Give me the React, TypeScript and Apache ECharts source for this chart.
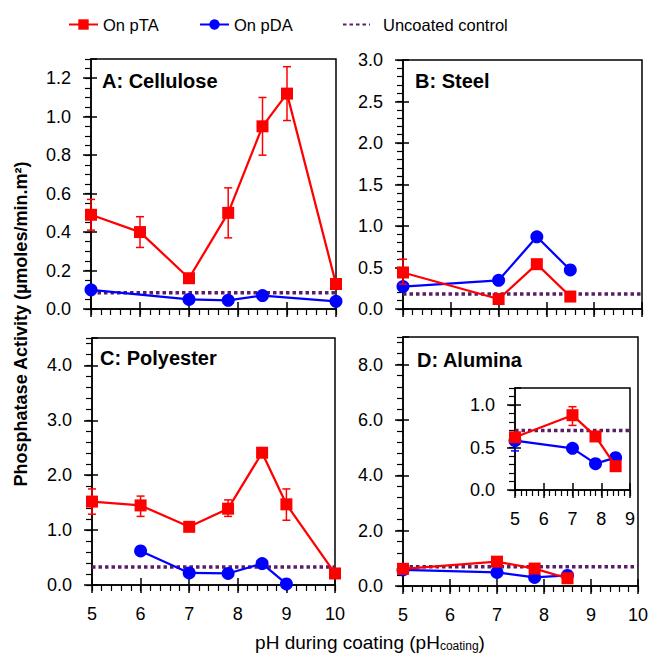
import React, { useEffect, useRef } from 'react';
import * as echarts from 'echarts';

const FONT = '"Liberation Sans", Arial, sans-serif';
const RED = '#FF0000';
const BLUE = '#0000FF';
const PURPLE = '#5B1C68';

// ---------- Data ----------
// Panel A: Cellulose
const A_pTA_x = [5, 6, 7, 7.8, 8.5, 9, 10];
const A_pTA_y = [0.49, 0.40, 0.16, 0.50, 0.95, 1.12, 0.13];
const A_pTA_errX = [5, 6, 7.8, 8.5, 9];
const A_pTA_errLo = [0.41, 0.32, 0.37, 0.80, 0.98];
const A_pTA_errHi = [0.57, 0.48, 0.63, 1.10, 1.26];
const A_pDA_x = [5, 7, 7.8, 8.5, 10];
const A_pDA_y = [0.10, 0.05, 0.045, 0.07, 0.04];
const A_ctrl = 0.085;

// Panel B: Steel
const B_pTA_x = [5, 7, 7.8, 8.5];
const B_pTA_y = [0.44, 0.12, 0.54, 0.15];
const B_pTA_errX = [5];
const B_pTA_errLo = [0.30];
const B_pTA_errHi = [0.60];
const B_pDA_x = [5, 7, 7.8, 8.5];
const B_pDA_y = [0.27, 0.345, 0.87, 0.47];
const B_ctrl = 0.18;

// Panel C: Polyester
const C_pTA_x = [5, 6, 7, 7.8, 8.5, 9, 10];
const C_pTA_y = [1.52, 1.45, 1.06, 1.39, 2.41, 1.47, 0.21];
const C_pTA_errX = [5, 6, 7.8, 9];
const C_pTA_errLo = [1.29, 1.25, 1.25, 1.18];
const C_pTA_errHi = [1.75, 1.62, 1.55, 1.75];
const C_pDA_x = [6, 7, 7.8, 8.5, 9];
const C_pDA_y = [0.62, 0.22, 0.21, 0.39, 0.02];
const C_ctrl = 0.33;

// Panel D: Alumina (main and inset show the same data)
const D_pTA_x = [5, 7, 7.8, 8.5];
const D_pTA_y = [0.62, 0.88, 0.63, 0.28];
const D_pTA_errX = [7];
const D_pTA_errLo = [0.76];
const D_pTA_errHi = [0.98];
const D_pDA_x = [5, 7, 7.8, 8.5];
const D_pDA_y = [0.58, 0.49, 0.31, 0.38];
const D_pDA_errX = [5];
const D_pDA_errLo = [0.46];
const D_pDA_errHi = [0.60];
const D_ctrl = 0.70;

// Tick labels
const xTickLabels = ['5', '6', '7', '8', '9', '10'];

const zip = (xs: number[], ys: number[]) => xs.map((x, i) => [x, ys[i]]);
const zip3 = (xs: number[], lo: number[], hi: number[]) => xs.map((x, i) => [x, lo[i], hi[i]]);

type PanelDef = {
  grid: { left: number; top: number; width: number; height: number };
  xMin: number; xMax: number;
  yMax: number; yInterval: number; yMinor: number;
  showMaxY: boolean;
  xLabels: boolean;
  pTA: number[][]; pDA: number[][];
  errTA: number[][]; errDA: number[][];
  ctrl: number;
};

const panels: PanelDef[] = [
  {
    grid: { left: 91, top: 59, width: 245, height: 250 },
    xMin: 5, xMax: 10, yMax: 1.3, yInterval: 0.2, yMinor: 0.05, showMaxY: false, xLabels: false,
    pTA: zip(A_pTA_x, A_pTA_y), pDA: zip(A_pDA_x, A_pDA_y),
    errTA: zip3(A_pTA_errX, A_pTA_errLo, A_pTA_errHi), errDA: [], ctrl: A_ctrl,
  },
  {
    grid: { left: 403, top: 60, width: 239, height: 249 },
    xMin: 5, xMax: 10, yMax: 3.0, yInterval: 0.5, yMinor: 0.1, showMaxY: true, xLabels: false,
    pTA: zip(B_pTA_x, B_pTA_y), pDA: zip(B_pDA_x, B_pDA_y),
    errTA: zip3(B_pTA_errX, B_pTA_errLo, B_pTA_errHi), errDA: [], ctrl: B_ctrl,
  },
  {
    grid: { left: 92, top: 338, width: 243, height: 247 },
    xMin: 5, xMax: 10, yMax: 4.5, yInterval: 1.0, yMinor: 0.2, showMaxY: false, xLabels: true,
    pTA: zip(C_pTA_x, C_pTA_y), pDA: zip(C_pDA_x, C_pDA_y),
    errTA: zip3(C_pTA_errX, C_pTA_errLo, C_pTA_errHi), errDA: [], ctrl: C_ctrl,
  },
  {
    grid: { left: 403, top: 337, width: 239, height: 249 },
    xMin: 5, xMax: 10, yMax: 9.0, yInterval: 2.0, yMinor: 0.4, showMaxY: false, xLabels: true,
    pTA: zip(D_pTA_x, D_pTA_y), pDA: zip(D_pDA_x, D_pDA_y),
    errTA: zip3(D_pTA_errX, D_pTA_errLo, D_pTA_errHi), errDA: zip3(D_pDA_errX, D_pDA_errLo, D_pDA_errHi), ctrl: D_ctrl,
  },
  {
    grid: { left: 515, top: 388, width: 115, height: 102 },
    xMin: 5, xMax: 9, yMax: 1.2, yInterval: 0.5, yMinor: 0.1, showMaxY: false, xLabels: true,
    pTA: zip(D_pTA_x, D_pTA_y), pDA: zip(D_pDA_x, D_pDA_y),
    errTA: zip3(D_pTA_errX, D_pTA_errLo, D_pTA_errHi), errDA: zip3(D_pDA_errX, D_pDA_errLo, D_pDA_errHi), ctrl: D_ctrl,
  },
];

const renderErr = (params: any, api: any) => {
  const x = api.value(0);
  const lo = api.coord([x, api.value(1)]);
  const hi = api.coord([x, api.value(2)]);
  const w = 4;
  const style = { stroke: api.visual('color'), lineWidth: 1.5 };
  return {
    type: 'group',
    children: [
      { type: 'line', shape: { x1: lo[0], y1: lo[1], x2: hi[0], y2: hi[1] }, style },
      { type: 'line', shape: { x1: lo[0] - w, y1: lo[1], x2: lo[0] + w, y2: lo[1] }, style },
      { type: 'line', shape: { x1: hi[0] - w, y1: hi[1], x2: hi[0] + w, y2: hi[1] }, style },
    ],
  };
};

function buildOption() {
  const grid: any[] = [];
  const xAxis: any[] = [];
  const yAxis: any[] = [];
  const series: any[] = [];
  const tickLine = { color: '#000', width: 1.5 };
  const minorLine = { color: '#000', width: 1.2 };
  const labelStyle = { fontSize: 18, color: '#000', fontFamily: FONT };

  panels.forEach((p, i) => {
    grid.push({
      ...p.grid, show: true, borderColor: '#000', borderWidth: 1.5,
      backgroundColor: '#fff', containLabel: false,
    });
    const xBase = { type: 'value', gridIndex: i, min: p.xMin, max: p.xMax, position: 'bottom', splitLine: { show: false } };
    xAxis.push({
      ...xBase, interval: 1,
      axisLine: { show: true, onZero: false, lineStyle: { color: '#000', width: 1.5 } },
      axisTick: { show: true, inside: false, length: 8, lineStyle: tickLine },
      axisLabel: {
        show: p.xLabels, margin: 20, ...labelStyle,
        formatter: (v: number) => xTickLabels[Math.round(v) - 5] ?? String(v),
      },
    });
    xAxis.push({
      ...xBase, interval: 1,
      axisLine: { show: false, onZero: false },
      axisTick: { show: true, inside: true, length: 7, lineStyle: tickLine },
      axisLabel: { show: false },
    });
    xAxis.push({
      ...xBase, interval: 0.2,
      axisLine: { show: false, onZero: false },
      axisTick: { show: true, inside: false, length: 6, lineStyle: minorLine },
      axisLabel: { show: false },
    });
    const yBase = { type: 'value', gridIndex: i, min: 0, max: p.yMax, position: 'left', splitLine: { show: false } };
    yAxis.push({
      ...yBase, interval: p.yInterval,
      axisLine: { show: true, onZero: false, lineStyle: { color: '#000', width: 1.5 } },
      axisTick: { show: true, inside: false, length: 8, lineStyle: tickLine },
      axisLabel: {
        show: true, margin: 20, ...labelStyle, showMaxLabel: p.showMaxY ? true : false,
        formatter: (v: number) => v.toFixed(1),
      },
    });
    yAxis.push({
      ...yBase, interval: p.yInterval,
      axisLine: { show: false, onZero: false },
      axisTick: { show: true, inside: true, length: 6, lineStyle: tickLine },
      axisLabel: { show: false },
    });
    yAxis.push({
      ...yBase, interval: p.yMinor,
      axisLine: { show: false, onZero: false },
      axisTick: { show: true, inside: false, length: 6, lineStyle: minorLine },
      axisLabel: { show: false },
    });

    const ax = { xAxisIndex: 3 * i, yAxisIndex: 3 * i };
    series.push({
      ...ax, type: 'line', name: 'Uncoated control',
      data: [[p.xMin, p.ctrl], [p.xMax, p.ctrl]],
      symbol: 'none', showSymbol: false, z: 2,
      itemStyle: { color: PURPLE },
      lineStyle: { color: PURPLE, width: 3.5, type: [3.5, 3], cap: 'butt' },
    });
    if (p.errDA.length) {
      series.push({
        ...ax, type: 'custom', renderItem: renderErr, data: p.errDA,
        encode: { x: 0, y: [1, 2] }, itemStyle: { color: BLUE }, z: 3, silent: true,
      });
    }
    series.push({
      ...ax, type: 'line', name: 'On pDA', data: p.pDA,
      symbol: 'circle', symbolSize: 13, clip: false, z: 4,
      itemStyle: { color: BLUE },
      lineStyle: { color: BLUE, width: 2.25 },
    });
    if (p.errTA.length) {
      series.push({
        ...ax, type: 'custom', renderItem: renderErr, data: p.errTA,
        encode: { x: 0, y: [1, 2] }, itemStyle: { color: RED }, z: 5, silent: true,
      });
    }
    series.push({
      ...ax, type: 'line', name: 'On pTA', data: p.pTA,
      symbol: 'rect', symbolSize: 12, clip: false, z: 6,
      itemStyle: { color: RED },
      lineStyle: { color: RED, width: 2.25 },
    });
  });

  const legendText = { fontSize: 16.5, color: '#000', fontFamily: FONT };
  const legend = [
    { data: ['On pTA'], left: 68, top: 16, padding: 0, itemWidth: 29, itemHeight: 13, textStyle: legendText },
    { data: ['On pDA'], left: 199, top: 16, padding: 0, itemWidth: 29, itemHeight: 13, textStyle: legendText },
    {
      data: ['Uncoated control'], left: 342, top: 16, padding: 0, itemWidth: 27, itemHeight: 13,
      itemStyle: { opacity: 0 },
      textStyle: { ...legendText, padding: [0, 0, 0, 8] },
    },
  ];

  const titleStyle = { fontSize: 20, fontWeight: 'bold', fill: '#000', fontFamily: FONT, verticalAlign: 'middle' };
  const graphic: any[] = [
    { type: 'text', x: 102, y: 81, style: { ...titleStyle, text: 'A: Cellulose' } },
    { type: 'text', x: 415, y: 81, style: { ...titleStyle, text: 'B: Steel' } },
    { type: 'text', x: 100, y: 358, style: { ...titleStyle, text: 'C: Polyester' } },
    { type: 'text', x: 417, y: 360, style: { ...titleStyle, text: 'D: Alumina' } },
    {
      type: 'text', x: 21, y: 324, rotation: Math.PI / 2,
      style: {
        text: 'Phosphatase Activity (µmoles/min.m²)', fontSize: 18, fontWeight: 'bold',
        fill: '#000', fontFamily: FONT, align: 'center', verticalAlign: 'middle',
      },
    },
    {
      type: 'text', x: 370, y: 642,
      style: {
        text: '{a|pH during coating (pH}{s|coating}{a|)}',
        align: 'center', verticalAlign: 'middle', fill: '#000', fontFamily: FONT,
        rich: {
          a: { fontSize: 19, lineHeight: 19, verticalAlign: 'top', fontFamily: FONT, fill: '#000' },
          s: { fontSize: 12, lineHeight: 12, verticalAlign: 'bottom', padding: [10, 0, 0, 0], fontFamily: FONT, fill: '#000' },
        },
      },
    },
  ];

  return {
    animation: false,
    backgroundColor: '#fff',
    textStyle: { fontFamily: FONT },
    grid, xAxis, yAxis, series, legend, graphic,
  };
}

export default function App() {
  const ref = useRef<HTMLDivElement>(null);
  useEffect(() => {
    if (!ref.current) return;
    const chart = echarts.init(ref.current, undefined, { renderer: 'svg' });
    chart.setOption(buildOption() as any);
    return () => chart.dispose();
  }, []);
  return (
    <div
      ref={ref}
      style={{ position: 'absolute', left: 0, top: 0, width: 651, height: 654 }}
    />
  );
}
